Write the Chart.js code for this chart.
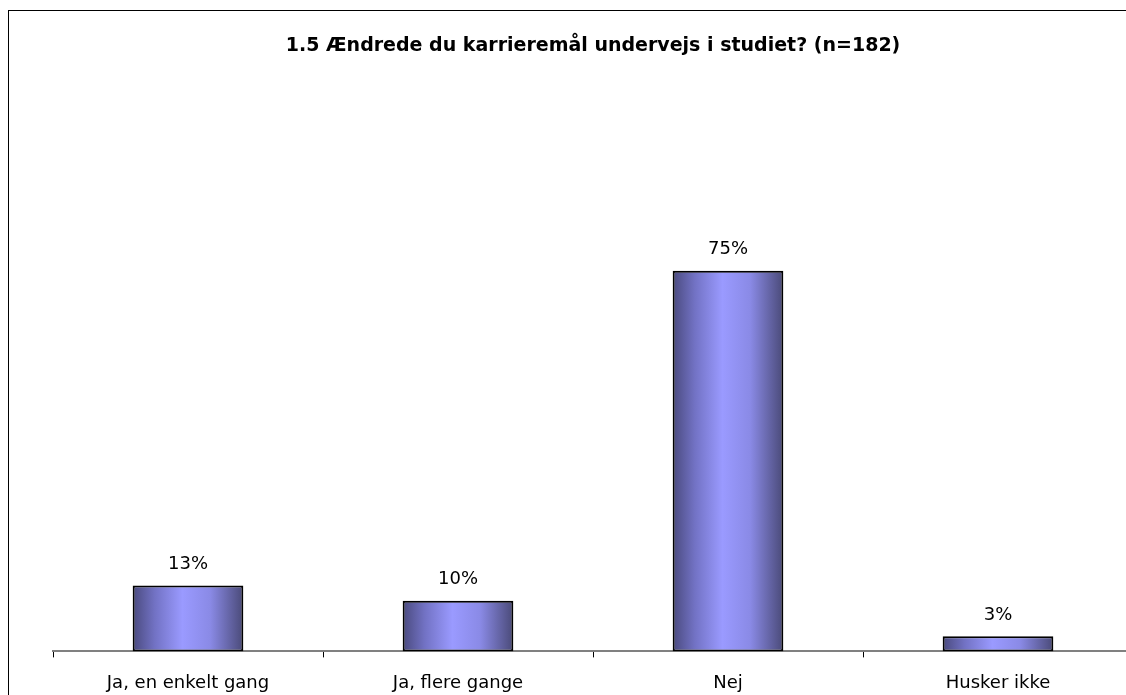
<!DOCTYPE html>
<html>
<head>
<meta charset="utf-8">
<script src="https://cdn.jsdelivr.net/npm/chart.js@4/dist/chart.umd.min.js"></script>
<style>
  html, body { margin: 0; padding: 0; overflow: hidden; background: #fff; }
  #wrap { width: 1160px; height: 710px; }
</style>
</head>
<body>
<div id="wrap"><canvas id="chart"></canvas></div>
<script>
var categories = ["Ja, en enkelt gang", "Ja, flere gange", "Nej", "Husker ikke"];
var values = [13, 10, 75, 3];
var valueLabels = ["13%", "10%", "75%", "3%"];
var title = "1.5 \u00c6ndrede du karrierem\u00e5l undervejs i studiet? (n=182)";

var barPct = 0.41;
var font = "DejaVu Sans";

// horizontal gradient for each bar, dark at the edges and light in the middle
function barFill(ctx) {
  var chart = ctx.chart;
  var x = chart.scales.x;
  if (!chart.chartArea || !x) return "#8080d0";
  var cx = x.getPixelForValue(ctx.dataIndex);
  var w = x.width / categories.length * barPct;
  var g = chart.ctx.createLinearGradient(cx - w / 2, 0, cx + w / 2, 0);
  g.addColorStop(0, "#4a4a7e");
  g.addColorStop(0.2, "#7272c4");
  g.addColorStop(0.45, "#9a9aff");
  g.addColorStop(0.7, "#8a8ae6");
  g.addColorStop(1, "#4a4a78");
  return g;
}

var frame = {
  id: "frame",
  afterDraw: function (chart) {
    var c = chart.ctx;
    c.save();
    c.strokeStyle = "#000";
    c.lineWidth = 1;
    c.strokeRect(8.5, 10.5, 1130, 720);
    c.restore();
  }
};

var barLabels = {
  id: "barLabels",
  afterDatasetsDraw: function (chart) {
    var c = chart.ctx;
    var meta = chart.getDatasetMeta(0);
    c.save();
    c.fillStyle = "#000";
    c.font = "18px '" + font + "'";
    c.textAlign = "center";
    c.textBaseline = "middle";
    meta.data.forEach(function (bar, i) {
      c.fillText(valueLabels[i], bar.x, bar.y - 21);
    });
    c.restore();
  }
};

new Chart(document.getElementById("chart"), {
  type: "bar",
  data: {
    labels: categories,
    datasets: [{
      data: values,
      backgroundColor: barFill,
      borderColor: "#000",
      borderWidth: 2,
      borderSkipped: false,
      barPercentage: barPct,
      categoryPercentage: 1
    }]
  },
  options: {
    responsive: true,
    maintainAspectRatio: false,
    animation: false,
    layout: { padding: { left: 53, right: 27, top: 0, bottom: 1 } },
    plugins: {
      legend: { display: false },
      tooltip: { enabled: false },
      title: {
        display: true,
        text: title,
        color: "#000",
        font: { family: font, size: 19, weight: "bold" },
        padding: { top: 35, bottom: 86 }
      }
    },
    scales: {
      x: {
        grid: { drawOnChartArea: false, color: "#000", tickLength: 6, offset: true },
        border: { color: "#808080", width: 2 },
        ticks: { color: "#000", font: { family: font, size: 18 }, padding: 15, maxRotation: 0 }
      },
      y: {
        display: false,
        min: 0,
        max: 100
      }
    }
  },
  plugins: [frame, barLabels]
});
</script>
</body>
</html>
